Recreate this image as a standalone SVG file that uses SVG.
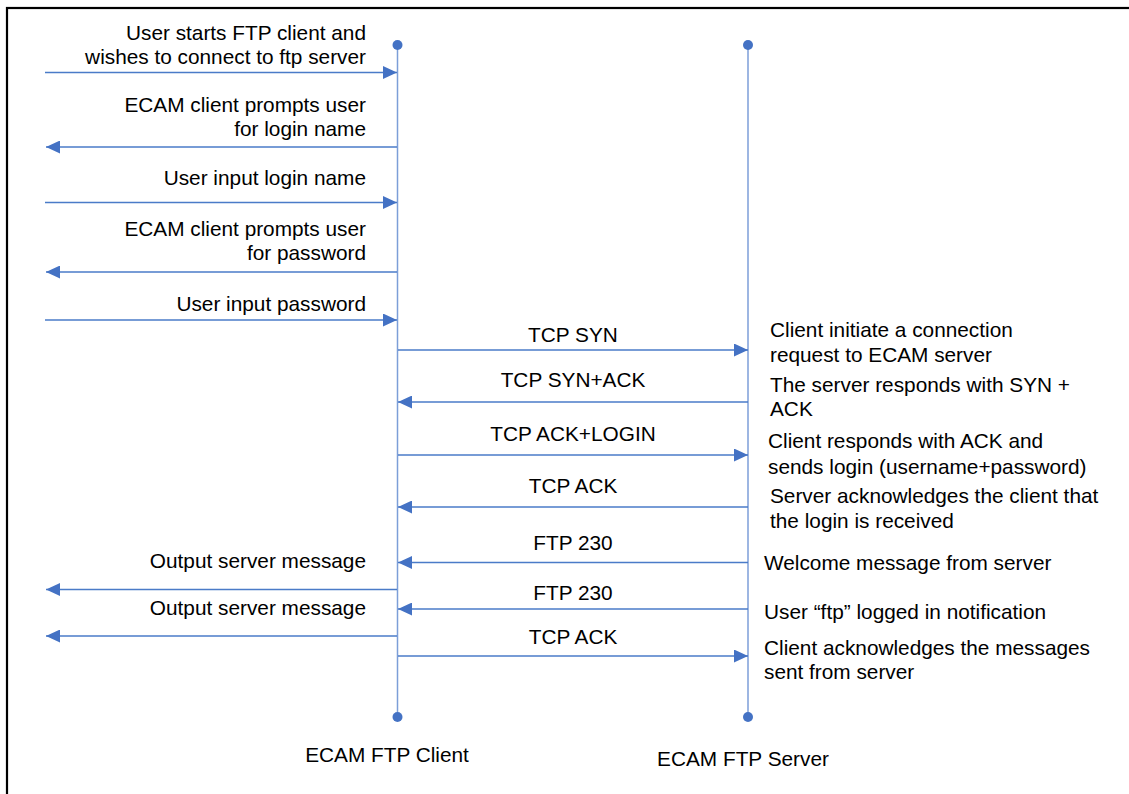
<svg xmlns="http://www.w3.org/2000/svg" width="1129" height="794" viewBox="0 0 1129 794">
<style>
text{font-family:"Liberation Sans",Arial,sans-serif;font-size:20.8px;fill:#000}
.r{text-anchor:end}
.c{text-anchor:middle}
.life{stroke:#7C9ED8;stroke-width:1.5;fill:none}
.msg{stroke:#4A7BC8;stroke-width:1.4;fill:none}
.dot{fill:#4472C4}
</style>
<defs>
<marker id="ah" viewBox="0 0 14 13" refX="14" refY="6.5" markerWidth="14" markerHeight="13" markerUnits="userSpaceOnUse" orient="auto">
<path d="M0,0 L14,6.5 L0,13 Z" fill="#4472C4"/>
</marker>
</defs>
<rect x="0" y="0" width="1129" height="794" fill="#fff"/>
<rect x="7" y="8" width="1140" height="800" fill="none" stroke="#000" stroke-width="2.2"/>

<g id="client">
<line class="life" x1="397.5" y1="45" x2="397.5" y2="717"/>
<circle class="dot" cx="397.5" cy="45" r="5"/>
<circle class="dot" cx="397.5" cy="717" r="5"/>
<text class="c" x="387" y="762">ECAM FTP Client</text>
</g>
<g id="server">
<line class="life" x1="748" y1="45" x2="748" y2="717"/>
<circle class="dot" cx="748" cy="45" r="5"/>
<circle class="dot" cx="748" cy="717" r="5"/>
<text class="c" x="743" y="766">ECAM FTP Server</text>
</g>

<g id="connectors">
<line class="msg" x1="45" y1="72.5" x2="397" y2="72.5" marker-end="url(#ah)"/>
<line class="msg" x1="397" y1="147" x2="46" y2="147" marker-end="url(#ah)"/>
<line class="msg" x1="45" y1="202.5" x2="397" y2="202.5" marker-end="url(#ah)"/>
<line class="msg" x1="397" y1="272" x2="46" y2="272" marker-end="url(#ah)"/>
<line class="msg" x1="45" y1="320" x2="397" y2="320" marker-end="url(#ah)"/>
<line class="msg" x1="398" y1="350" x2="748" y2="350" marker-end="url(#ah)"/>
<line class="msg" x1="748" y1="402" x2="398" y2="402" marker-end="url(#ah)"/>
<line class="msg" x1="398" y1="455" x2="748" y2="455" marker-end="url(#ah)"/>
<line class="msg" x1="748" y1="507" x2="398" y2="507" marker-end="url(#ah)"/>
<line class="msg" x1="748" y1="562.5" x2="398" y2="562.5" marker-end="url(#ah)"/>
<line class="msg" x1="397" y1="589.5" x2="46" y2="589.5" marker-end="url(#ah)"/>
<line class="msg" x1="748" y1="609" x2="398" y2="609" marker-end="url(#ah)"/>
<line class="msg" x1="397" y1="636" x2="46" y2="636" marker-end="url(#ah)"/>
<line class="msg" x1="398" y1="656" x2="748" y2="656" marker-end="url(#ah)"/>
</g>

<g id="left-labels">
<text class="r" x="366" y="40">User starts FTP client and</text>
<text class="r" x="366" y="64">wishes to connect to ftp server</text>
<text class="r" x="366" y="112">ECAM client prompts user</text>
<text class="r" x="366" y="136">for login name</text>
<text class="r" x="366" y="185">User input login name</text>
<text class="r" x="366" y="236">ECAM client prompts user</text>
<text class="r" x="366" y="260">for password</text>
<text class="r" x="366" y="311">User input password</text>
<text class="r" x="366" y="568">Output server message</text>
<text class="r" x="366" y="615">Output server message</text>
</g>

<g id="mid-labels">
<text class="c" x="573" y="342">TCP SYN</text>
<text class="c" x="573" y="387">TCP SYN+ACK</text>
<text class="c" x="573" y="441">TCP ACK+LOGIN</text>
<text class="c" x="573" y="493">TCP ACK</text>
<text class="c" x="573" y="550">FTP 230</text>
<text class="c" x="573" y="600">FTP 230</text>
<text class="c" x="573" y="644">TCP ACK</text>
</g>

<g id="right-labels">
<text x="770" y="337">Client initiate a connection</text>
<text x="770" y="362">request to ECAM server</text>
<text x="770" y="392">The server responds with SYN +</text>
<text x="770" y="416">ACK</text>
<text x="768" y="448">Client responds with ACK and</text>
<text x="768" y="474">sends login (username+password)</text>
<text x="770" y="503">Server acknowledges the client that</text>
<text x="770" y="528">the login is received</text>
<text x="764" y="570">Welcome message from server</text>
<text x="764" y="619">User “ftp” logged in notification</text>
<text x="764" y="655">Client acknowledges the messages</text>
<text x="764" y="679">sent from server</text>
</g>
</svg>
